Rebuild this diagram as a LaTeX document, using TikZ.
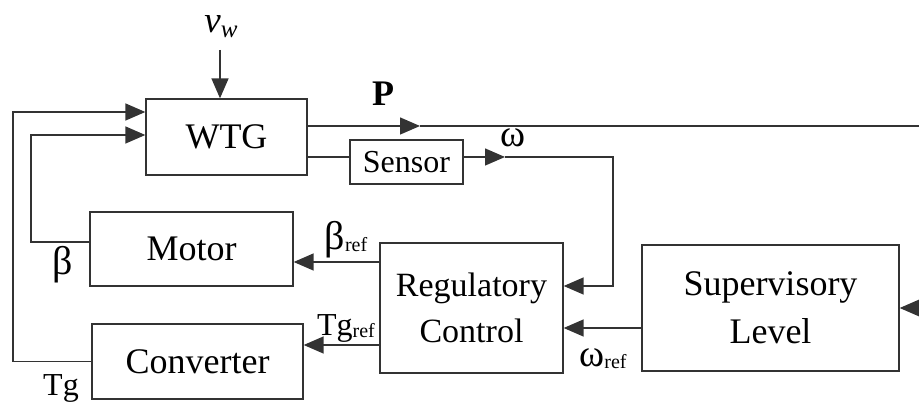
\documentclass[tikz,border=0pt]{standalone}
\usepackage{fontspec}
\setmainfont{Liberation Serif}
\usetikzlibrary{arrows.meta}
\newcommand{\refsub}{\raisebox{-2pt}{\fontsize{20}{22}\selectfont ref}}

\begin{document}
\begin{tikzpicture}[x=1pt,y=-1pt,
    blk/.style={draw=black!80,line width=1.3pt,inner sep=0pt,align=center,
      font=\fontsize{36}{48}\selectfont},
    wire/.style={draw=black!80,line width=1.4pt},
    sig/.style={wire,-{Triangle[length=20pt,width=17pt]}},
    lbl/.style={font=\fontsize{38}{40}\selectfont,inner sep=0pt}]
  \useasboundingbox (0,0) rectangle (919,403);
  % blocks
  \node[blk,minimum width=161pt,minimum height=76pt] (wtg) at (226.5,137) {WTG};
  \node[blk,minimum width=113pt,minimum height=44pt,font=\fontsize{32}{36}\selectfont] (sensor) at (406.5,162) {Sensor};
  \node[blk,minimum width=203pt,minimum height=74pt] (motor) at (191.5,249) {Motor};
  \node[blk,minimum width=211pt,minimum height=75pt] (conv) at (197.5,361.5) {Converter};
  \node[blk,minimum width=183pt,minimum height=130pt,font=\fontsize{34}{46}\selectfont] (reg) at (471.5,308) {Regulatory\\Control};
  \node[blk,minimum width=257pt,minimum height=126pt] (sup) at (770.5,308) {Supervisory\\Level};
  % free ends and bends
  \coordinate (vw) at (220,50);
  \coordinate (ptip) at (420,126); \coordinate (pend) at (919,126);
  \coordinate (wtip) at (505,157); \coordinate (wbend) at (613,157); \coordinate (wfb) at (613,286);
  \coordinate (lo) at (13,112); \coordinate (li) at (31,135);
  \coordinate (bref) at (380,262); \coordinate (tref) at (380,345);
  \coordinate (wref) at (642,328); \coordinate (supin) at (919,308);
  % signals
  \draw[sig] (vw) -- (vw |- wtg.north);
  \draw[sig] (wtg.east |- ptip) -- (ptip);
  \draw[wire] (ptip) -- (pend);
  \draw[wire] (wtg.east |- wtip) -- (sensor.west |- wtip);
  \draw[sig] (sensor.east |- wtip) -- (wtip);
  \draw[sig] (wtip) -- (wbend) -- (wfb) -- (wfb -| reg.east);
  \draw[sig] ([yshift=7pt]motor.west) -| (li) -- (li -| wtg.west);
  \draw[sig] (conv.west) -| (lo) -- (lo -| wtg.west);
  \draw[sig] (bref) -- (bref -| motor.east);
  \draw[sig] (tref) -- (tref -| conv.east);
  \draw[sig] (wref) -- (wref -| reg.east);
  \draw[sig] (supin) -- (sup.east);
  % labels
  \node[lbl,font=\fontsize{37}{39}\selectfont] (vwl) at (221,27) {\textit{v}\raisebox{-5pt}{\fontsize{25}{27}\selectfont\textit{w}}};
  \node[lbl,font=\fontsize{36}{38}\selectfont\bfseries] (pl) at (383,94) {P};
  \node[lbl] (wl) at (513,138) {ω};
  \node[lbl,font=\fontsize{40}{42}\selectfont] (bl) at (63,265) {β};
  \node[lbl,font=\fontsize{40}{42}\selectfont] (brefl) at (346,240) {β\refsub};
  \node[lbl,font=\fontsize{32}{34}\selectfont] (trefl) at (346,328) {Tg\refsub};
  \node[lbl,font=\fontsize{32}{34}\selectfont] (tgl) at (61,388) {Tg};
  \node[lbl] (wrefl) at (603,359) {ω\refsub};
\end{tikzpicture}
\end{document}
